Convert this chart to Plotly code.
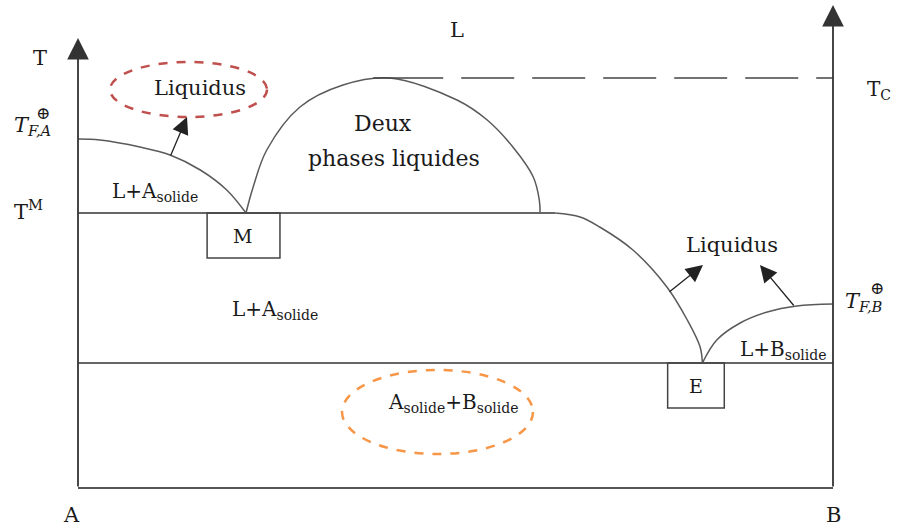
import plotly.graph_objects as go

# Composition axis: 0 = pure A, 1 = pure B. Temperature in arbitrary units.
T_E = 125      # eutectic temperature
T_M = 275      # monotectic temperature
T_FA = 349     # melting point of A
T_FB = 184     # melting point of B
T_C = 410      # critical (consolute) temperature
x_M = 0.2225   # monotectic composition
x_E = 0.827    # eutectic composition
x_M2 = 0.632   # end of the monotectic plateau on the B side

# Liquidus of A (from T_FA down to M)
liqA_x = [0.0, 0.029, 0.082, 0.122, 0.162, 0.197, x_M]
liqA_T = [T_FA, 348, 341, 333, 318, 298, T_M]

# Miscibility gap (two liquid phases)
dome_x = [x_M, 0.232, 0.250, 0.294, 0.351, 0.413, 0.502, 0.542, 0.576, 0.603, 0.611, 0.612]
dome_T = [T_M, 301, 338, 381, 403, T_C, 388, 368, 341, 311, 288, T_M]

# Liquidus of A beyond the miscibility gap, down to E
liqA2_x = [x_M2, 0.665, 0.691, 0.735, 0.780, 0.807, 0.824, x_E]
liqA2_T = [T_M, 271, 261, 238, 201, 168, 141, T_E]

# Liquidus of B (from E up to T_FB)
liqB_x = [x_E, 0.846, 0.877, 0.913, 0.952, 1.0]
liqB_T = [T_E, 148, 165, 176, 182, T_FB]

X0, X1 = -78 / 755, 828 / 755
Y0, Y1 = -41, 488

CURVE = "#5a5a5a"
AXIS = "#333333"
TXT = "#1a1a1a"
FONT = "DejaVu Serif"

fig = go.Figure()

def curve(xs, ts):
    fig.add_trace(go.Scatter(x=xs, y=ts, mode="lines", line=dict(color=CURVE, width=1.5, shape="spline", smoothing=1.0),
                             hoverinfo="skip", showlegend=False))

curve(liqA_x, liqA_T)
curve(dome_x, dome_T)
curve(liqA2_x, liqA2_T)
curve(liqB_x, liqB_T)

# Horizontal lines: bottom, monotectic, eutectic, critical (dashed)
fig.add_shape(type="line", x0=0, x1=1, y0=0, y1=0, line=dict(color="#555555", width=2))
fig.add_shape(type="line", x0=0, x1=x_M2, y0=T_M, y1=T_M, line=dict(color="#666666", width=2))
fig.add_shape(type="line", x0=0, x1=1, y0=T_E, y1=T_E, line=dict(color="#666666", width=2))
fig.add_shape(type="line", x0=0.391, x1=1, y0=T_C, y1=T_C,
              line=dict(color="#444444", width=1.5,
                        dash="70px,18px,53px,18px,53px,18px,53px,18px,53px,18px,53px,18px,80px"))

# Boxes labelling M and E
fig.add_shape(type="rect", x0=0.171, x1=0.2675, y0=230, y1=T_M, line=dict(color="#444444", width=1.5))
fig.add_shape(type="rect", x0=0.781, x1=0.856, y0=80, y1=T_E, line=dict(color="#444444", width=1.5))

# Dashed ellipses
fig.add_shape(type="circle", x0=0.0424, x1=0.2503, y0=371, y1=426, line=dict(color="#c0504d", width=2.5, dash="dash"))
fig.add_shape(type="circle", x0=0.3497, x1=0.6026, y0=34, y1=118, line=dict(color="#f79646", width=2.5, dash="dash"))

# Axes with arrowheads
for xa, top in [(0, 450), (1, 483)]:
    fig.add_annotation(x=xa, y=top, ax=xa, ay=0, xref="x", yref="y", axref="x", ayref="y",
                       showarrow=True, arrowhead=2, arrowsize=2.4, arrowwidth=1.8, arrowcolor=AXIS, text="")

# Arrows pointing to liquidus labels
for (tx, tt, hx, ht) in [(0.1219, 331, 0.1444, 371), (0.7815, 195, 0.8278, 223), (0.9497, 181, 0.9033, 223)]:
    fig.add_annotation(x=hx, y=ht, ax=tx, ay=tt, xref="x", yref="y", axref="x", ayref="y",
                       showarrow=True, arrowhead=2, arrowsize=2.6, arrowwidth=1.3, arrowcolor="#222222", text="")

def label(x, y, text, size=21, xanchor="center"):
    fig.add_annotation(x=x, y=y, xref="x", yref="y", text=text, showarrow=False, xanchor=xanchor, yanchor="middle",
                       font=dict(family=FONT, size=size, color=TXT))

label(0.502, 458, "L")
label(-0.0503, 430, "T")
label(0.1616, 400, "Liquidus", 21)
label(0.404, 365, "Deux", 22)
label(0.419, 330, "phases liquides", 22)
label(0.102, 296, "L+A<sub>solide</sub>", 20)
label(0.2185, 252, "M", 19)
label(0.261, 178, "L+A<sub>solide</sub>", 20)
label(0.866, 243, "Liquidus", 21)
label(0.934, 138, "L+B<sub>solide</sub>", 20)
label(0.8185, 102, "E", 19)
label(0.497, 85, "A<sub>solide</sub>+B<sub>solide</sub>", 20)
label(-0.008, -27, "A")
label(1.0, -27, "B")

# Temperature labels on both sides
label(-0.0874, 278, "T<sup>M</sup>", 21, "left")
label(-0.0875, 362, "<i>T</i><sub><i>F,A</i></sub>", 21, "left")
label(-0.0464, 375, "⊕", 17)
label(1.0424, 398, "T<sub>C</sub>", 20, "left")
label(1.0132, 186, "<i>T</i><sub><i>F,B</i></sub>", 21, "left")
label(1.0580, 200, "⊕", 17)

fig.update_layout(
    width=906, height=529,
    margin=dict(l=0, r=0, t=0, b=0),
    paper_bgcolor="white", plot_bgcolor="white",
    xaxis=dict(range=[X0, X1], visible=False, fixedrange=True),
    yaxis=dict(range=[Y0, Y1], visible=False, fixedrange=True),
    showlegend=False,
)

fig.write_html("out.html")
